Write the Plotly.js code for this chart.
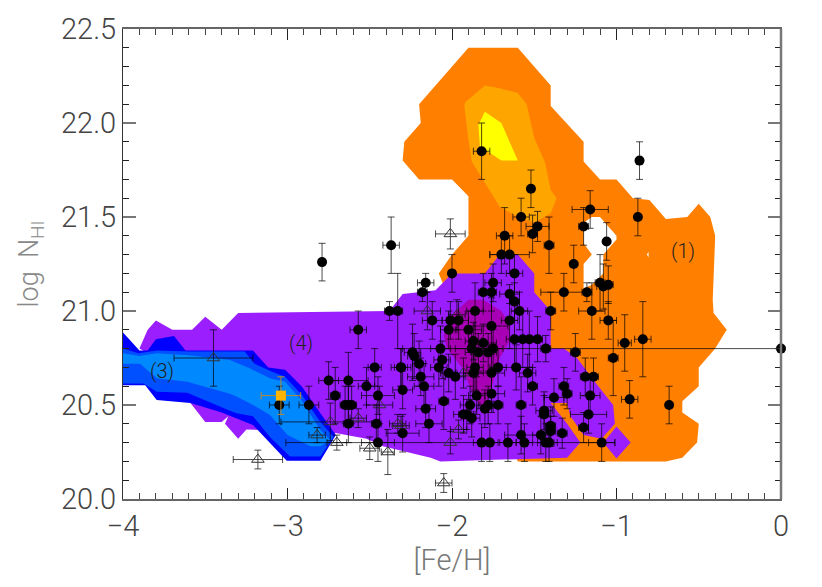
<!DOCTYPE html>
<html><head><meta charset="utf-8">
<script src="https://cdn.plot.ly/plotly-3.0.1.min.js"></script>
<style>html,body{margin:0;padding:0;background:#fff}#c{width:822px;height:587px}</style>
</head><body><div id="c"></div>
<script>
// Filled circles: [Fe/H], log N_HI and their errors
const circleFeH = [-1.82,-1.52,-0.86,-1.16,-0.87,-1.58,-1.48,-1.51,-1.68,-1.20,-1.06,-1.41,-1.70,-1.65,-1.26,-2.00,-1.62,-2.16,-2.18,-1.75,-1.81,-1.76,-1.65,-1.62,-1.59,-1.65,-1.86,-2.12,-2.01,-1.96,-2.02,-1.90,-1.76,-1.87,-1.81,-1.88,-1.84,-1.78,-1.75,-2.07,-2.24,-2.23,-2.06,-2.20,-2.31,-2.08,-2.19,-2.02,-1.98,-1.86,-1.87,-1.76,-1.72,-1.61,-1.54,-2.17,-2.30,-1.51,-1.62,-1.57,-1.53,-1.48,-1.43,-1.40,-1.32,-1.18,-1.15,-1.05,-1.10,-1.08,-1.05,-0.95,-0.84,-1.02,-1.25,-1.19,-1.14,-1.32,-1.30,-1.16,-1.38,-0.92,-0.68,-1.85,-1.76,-2.05,-1.89,-1.78,-1.80,-1.72,-1.58,-2.16,-1.93,-1.91,-1.88,-1.44,-1.44,-1.17,-2.14,-1.20,-1.40,-1.40,-1.33,-1.58,-1.46,-2.30,-1.82,-1.77,-1.66,-1.56,-1.43,-1.41,-1.09,-3.05,-2.87,-2.75,-2.71,-2.63,-2.65,-2.63,-2.61,-2.52,-2.47,-2.45,-2.31,-2.63,-2.46,-2.45,-2.57,-2.38,-2.33,-2.79,-2.37,0];
const circleNHI = [21.85,21.65,21.80,21.54,21.50,21.50,21.45,21.41,21.40,21.45,21.37,21.35,21.30,21.30,21.25,21.20,21.20,21.15,21.10,21.15,21.10,21.10,21.09,21.05,21.00,20.95,21.00,20.95,20.95,20.95,20.90,20.90,20.92,20.84,20.83,20.80,20.78,20.78,20.80,20.80,20.78,20.76,20.74,20.72,20.70,20.70,20.65,20.67,20.65,20.70,20.67,20.67,20.70,20.70,20.67,20.60,20.58,20.60,20.85,20.85,20.85,20.85,20.80,21.00,21.10,21.10,21.00,20.95,21.15,21.13,21.14,20.83,20.85,20.75,20.78,20.65,20.65,20.60,20.56,20.55,20.54,20.53,20.50,20.55,20.56,20.52,20.50,20.50,20.48,20.50,20.50,20.48,20.45,20.45,20.43,20.47,20.45,20.45,20.40,20.38,20.39,20.36,20.35,20.34,20.34,20.35,20.30,20.30,20.30,20.30,20.30,20.30,20.30,20.50,20.50,20.63,20.55,20.63,20.50,20.50,20.50,20.60,20.70,20.55,20.70,20.40,20.40,20.30,20.90,21.00,21.00,21.26,21.35,20.80];
const circleFeHErr = [.05,0,0,.11,0,.05,.07,.03,.05,.03,0,.03,.07,.12,0,0,.05,.05,.03,.05,.03,.03,.06,.03,.05,.05,.05,.06,.05,.06,.05,.08,.10,.05,.08,.10,.08,.05,.06,.06,.05,.04,.05,.04,.06,.05,.08,.05,.06,.05,.06,.08,.05,.10,.05,.06,.06,.03,.05,.03,.03,.03,.03,.03,.14,.03,.08,.05,.03,.04,.03,.04,.05,.03,.03,.03,.03,.03,.03,.06,.06,.05,0,.05,.08,.03,.06,.06,.05,.03,.03,.06,.06,.05,.05,.05,.03,.11,.08,.03,.03,.03,.03,.10,.05,.10,.05,.05,.05,.05,.05,.05,.08,.06,.06,.06,.03,.12,.03,.03,.03,.05,.04,.10,.04,.03,.03,.10,.05,.03,.03,0,.05,2.3];
const circleNHIErr = [.15,.10,.10,.10,.10,.10,.08,.10,.15,.10,.10,.15,.10,.10,.10,.10,.10,.05,.05,.10,.10,.10,.05,.10,.10,.15,.15,.10,.10,.10,.10,.10,.15,.10,.10,.12,.10,.10,.10,.12,.15,.12,.10,.12,.10,.10,.10,.10,.12,.12,.10,.15,.10,.12,.10,.12,.10,.10,.15,.15,.15,.12,.07,.10,.10,.05,.15,.10,.15,.12,.10,.15,.20,.20,.10,.10,.10,.10,.08,.10,.10,.10,.10,.10,.10,.15,.10,.10,.10,.10,.15,.10,.10,.08,.10,.10,.10,.10,.10,.08,.10,.08,.08,.10,.10,.10,.10,.10,.10,.10,.10,.10,.10,.10,.10,.10,.15,.15,.10,.10,.10,.10,.10,.10,.10,.10,.10,.10,.10,.05,.20,.10,.15,0];

// Open triangles
const triFeH = [-3.45,-3.18,-2.82,-2.74,-2.70,-2.57,-2.44,-2.50,-2.39,-2.33,-2.15,-1.97,-1.93,-1.96,-2.01,-2.31,-2.01,-2.05];
const triNHI = [20.75,20.21,20.34,20.41,20.30,20.43,20.50,20.27,20.25,20.40,21.00,20.98,20.67,20.37,20.30,20.39,21.41,20.085];
const triFeHErr = [.24,.15,.05,.30,.06,.05,.08,.06,.04,.05,.08,.05,.05,.05,1.0,.05,.09,.05];
const triNHIErr = [.15,.05,.04,.10,.04,.05,.10,.06,.12,.05,.10,.08,.08,.05,.06,.05,.08,.05];

// Orange square
const squareFeH = [-3.04], squareNHI = [20.55], squareFeHErr = [.12], squareNHIErr = [.10];

// Contour polygons
const orangeX = [-1.90,-1.60,-1.40,-1.40,-1.20,-1.20,-1.10,-1.00,-0.90,-0.80,-0.70,-0.57,-0.50,-0.43,-0.40,-0.415,-0.41,-0.33,-0.40,-0.50,-0.50,-0.60,-0.60,-0.50,-0.51,-0.60,-0.70,-1.60,-1.80,-2.08,-2.00,-1.90,-1.90,-2.00,-2.20,-2.30,-2.29,-2.19,-2.20];
const orangeY = [22.40,22.40,22.20,22.09,21.90,21.795,21.70,21.70,21.60,21.59,21.49,21.50,21.57,21.50,21.40,21.06,20.99,20.90,20.80,20.70,20.60,20.52,20.46,20.40,20.30,20.22,20.20,20.20,20.60,21.20,21.30,21.40,21.61,21.70,21.70,21.80,21.90,22.00,22.10];
const holeX = [-1.20,-1.15,-1.10,-1.00,-1.00,-1.08,-1.08,-1.15,-1.20,-1.20,-1.15,-1.20];
const holeY = [21.47,21.50,21.50,21.40,21.38,21.30,21.20,21.14,21.12,21.25,21.30,21.36];
const speckX = [-0.815,-0.805,-0.805], speckY = [21.30,21.315,21.285];
const midOrangeX = [-1.92,-1.80,-1.71,-1.60,-1.546,-1.50,-1.434,-1.40,-1.364,-1.40,-1.50,-1.60,-1.71,-1.88,-1.90,-1.925];
const midOrangeY = [22.11,22.20,22.185,22.16,22.10,21.92,21.79,21.644,21.60,21.52,21.47,21.50,21.555,21.795,21.91,22.09];
const yellowX = [-1.80,-1.70,-1.60,-1.70,-1.83,-1.84];
const yellowY = [22.06,22.00,21.80,21.80,21.875,21.99];
const purpleX = [-3.30,-2.38,-2.30,-2.10,-2.00,-1.80,-1.71,-1.60,-1.50,-1.50,-1.40,-1.40,-1.32,-1.24,-1.12,-1.02,-1.01,-1.09,-1.20,-1.28,-1.30,-1.40,-1.30,-1.22,-1.30,-2.07,-2.13,-2.42,-2.52,-2.70,-3.25,-3.30,-3.38,-3.36,-3.40,-3.50,-3.59,-3.70,-3.90,-3.85,-3.80,-3.70,-3.58,-3.50,-3.40];
const purpleY = [20.99,21.00,21.09,21.11,21.20,21.20,21.30,21.30,21.20,21.10,21.00,20.80,20.80,20.75,20.61,20.50,20.40,20.32,20.34,20.44,20.51,20.51,20.40,20.30,20.22,20.20,20.22,20.28,20.32,20.35,20.37,20.32,20.40,20.44,20.41,20.41,20.51,20.70,20.80,20.90,20.95,20.90,20.90,20.97,20.90];
const diamondX = [-1.00,-0.914,-1.00,-1.08], diamondY = [20.385,20.30,20.216,20.30];
const magentaX = [-1.90,-1.81,-1.70,-1.65,-1.65,-1.71,-1.75,-1.80,-1.86,-1.90,-1.94,-2.03,-2.05,-2.01];
const magentaY = [21.06,21.06,21.00,20.93,20.84,20.75,20.62,20.47,20.53,20.62,20.70,20.80,20.87,20.97];
const blueX = [-4.00,-3.90,-3.85,-3.80,-3.69,-3.62,-3.21,-3.117,-3.015,-2.914,-2.80,-2.706,-2.80,-3.005,-3.21,-3.40,-3.59,-3.795,-3.865,-4.00];
const blueY = [20.885,20.79,20.79,20.85,20.867,20.79,20.79,20.70,20.687,20.60,20.456,20.34,20.204,20.204,20.394,20.46,20.51,20.526,20.605,20.605];
const midBlueX = [-4.00,-3.906,-3.795,-3.60,-3.26,-3.20,-3.097,-3.015,-2.91,-2.80,-2.72,-2.80,-2.985,-3.107,-3.21,-3.31,-3.35,-3.61,-3.795,-3.876,-4.00];
const midBlueY = [20.80,20.775,20.79,20.785,20.785,20.72,20.678,20.65,20.55,20.41,20.33,20.226,20.226,20.33,20.44,20.456,20.47,20.565,20.57,20.615,20.615];
const lightBlueX = [-4.00,-3.90,-3.795,-3.60,-3.35,-3.23,-3.10,-3.015,-2.91,-2.80,-2.74,-2.80,-2.86,-3.00,-3.107,-3.21,-3.31,-3.35,-3.61,-3.795,-3.896,-4.00];
const lightBlueY = [20.775,20.76,20.775,20.765,20.74,20.695,20.64,20.625,20.518,20.367,20.314,20.28,20.28,20.34,20.447,20.50,20.545,20.56,20.624,20.642,20.72,20.72];

const regionLabels = ['(1)','(3)','(4)'];
const regionX = [-0.596,-3.76,-2.92], regionY = [21.32,20.68,20.83];

const xTicks = [-4,-3,-2,-1,0], xTickText = ['\u22124','\u22123','\u22122','\u22121','0'];
const yTicks = [20,20.5,21,21.5,22,22.5], yTickText = ['20.0','20.5','21.0','21.5','22.0','22.5'];

const font = 'Roboto, "Liberation Sans", sans-serif';
const poly = (x,y,c)=>({type:'scatter',mode:'lines',x,y,fill:'toself',fillcolor:c,line:{width:0,color:c},hoverinfo:'skip',showlegend:false});
const traces = [
  poly(orangeX,orangeY,'#ff7f00'),
  poly(holeX,holeY,'#ffffff'),
  poly(speckX,speckY,'#ffffff'),
  poly(midOrangeX,midOrangeY,'#ffa500'),
  poly(yellowX,yellowY,'#ffff00'),
  poly(purpleX,purpleY,'#9b1eff'),
  poly(diamondX,diamondY,'#9b1eff'),
  poly(magentaX,magentaY,'#a800b4'),
  poly(blueX,blueY,'#0000ff'),
  poly(midBlueX,midBlueY,'#0050ff'),
  poly(lightBlueX,lightBlueY,'#0088ff'),
  {type:'scatter',mode:'markers',x:triFeH,y:triNHI,showlegend:false,
   marker:{symbol:'triangle-up-open',size:11,color:'#333',line:{width:1,color:'#333'}},
   error_x:{type:'data',array:triFeHErr,color:'rgba(0,0,0,0.7)',thickness:1,width:3.5},
   error_y:{type:'data',array:triNHIErr,color:'rgba(0,0,0,0.7)',thickness:1,width:3.5}},
  {type:'scatter',mode:'markers',x:circleFeH,y:circleNHI,showlegend:false,cliponaxis:false,
   marker:{symbol:'circle',size:10,color:'#000'},
   error_x:{type:'data',array:circleFeHErr,color:'rgba(0,0,0,0.7)',thickness:1,width:3.5},
   error_y:{type:'data',array:circleNHIErr,color:'rgba(0,0,0,0.7)',thickness:1,width:3.5}},
  {type:'scatter',mode:'markers',x:squareFeH,y:squareNHI,showlegend:false,
   marker:{symbol:'square',size:10,color:'#ffb400'},
   error_x:{type:'data',array:squareFeHErr,color:'#b88a30',thickness:1,width:3.5},
   error_y:{type:'data',array:squareNHIErr,color:'#b88a30',thickness:1,width:3.5}}
];
const layout = {
  width:822,height:587,margin:{l:123,r:41,t:29,b:88,pad:0},
  paper_bgcolor:'#fff',plot_bgcolor:'#fff',showlegend:false,
  font:{family:font,color:'#444',size:28,weight:300},
  xaxis:{range:[-4,0],tickmode:'array',tickvals:xTicks,ticktext:xTickText,ticks:'inside',ticklen:11,tickwidth:1,tickcolor:'#222',
    showgrid:false,zeroline:false,showline:true,linecolor:'#666',linewidth:2,mirror:'ticks',
    minor:{dtick:0.1,ticks:'inside',ticklen:6,tickwidth:1,tickcolor:'#444',showgrid:false},
    tickfont:{family:font,size:29,color:'#444',weight:300},
    title:{text:'[Fe/H]',font:{family:font,size:29,color:'#777',weight:300},standoff:6}},
  yaxis:{range:[20,22.5],tickmode:'array',tickvals:yTicks,ticktext:yTickText,ticks:'inside',ticklen:13,tickwidth:2,tickcolor:'#777',
    showgrid:false,zeroline:false,showline:true,linecolor:'#333',linewidth:1,mirror:'ticks',
    minor:{dtick:0.1,ticks:'inside',ticklen:6,tickwidth:1,tickcolor:'#222',showgrid:false},
    tickfont:{family:font,size:29,color:'#444',weight:300},
    title:{text:'log  N<sub>HI</sub>',font:{family:font,size:27,color:'#888',weight:300},standoff:14}},
  annotations:regionLabels.map((t,i)=>({x:regionX[i],y:regionY[i],text:t,showarrow:false,xanchor:'center',yanchor:'middle',font:{family:font,size:20,color:'#222',weight:300}})),
  shapes:[{type:'line',xref:'paper',yref:'paper',x0:1,x1:1,y0:0,y1:1,line:{color:'#777',width:2.5},layer:'above'}]
};
Plotly.newPlot('c',traces,layout,{staticPlot:true,displayModeBar:false});
</script></body></html>
